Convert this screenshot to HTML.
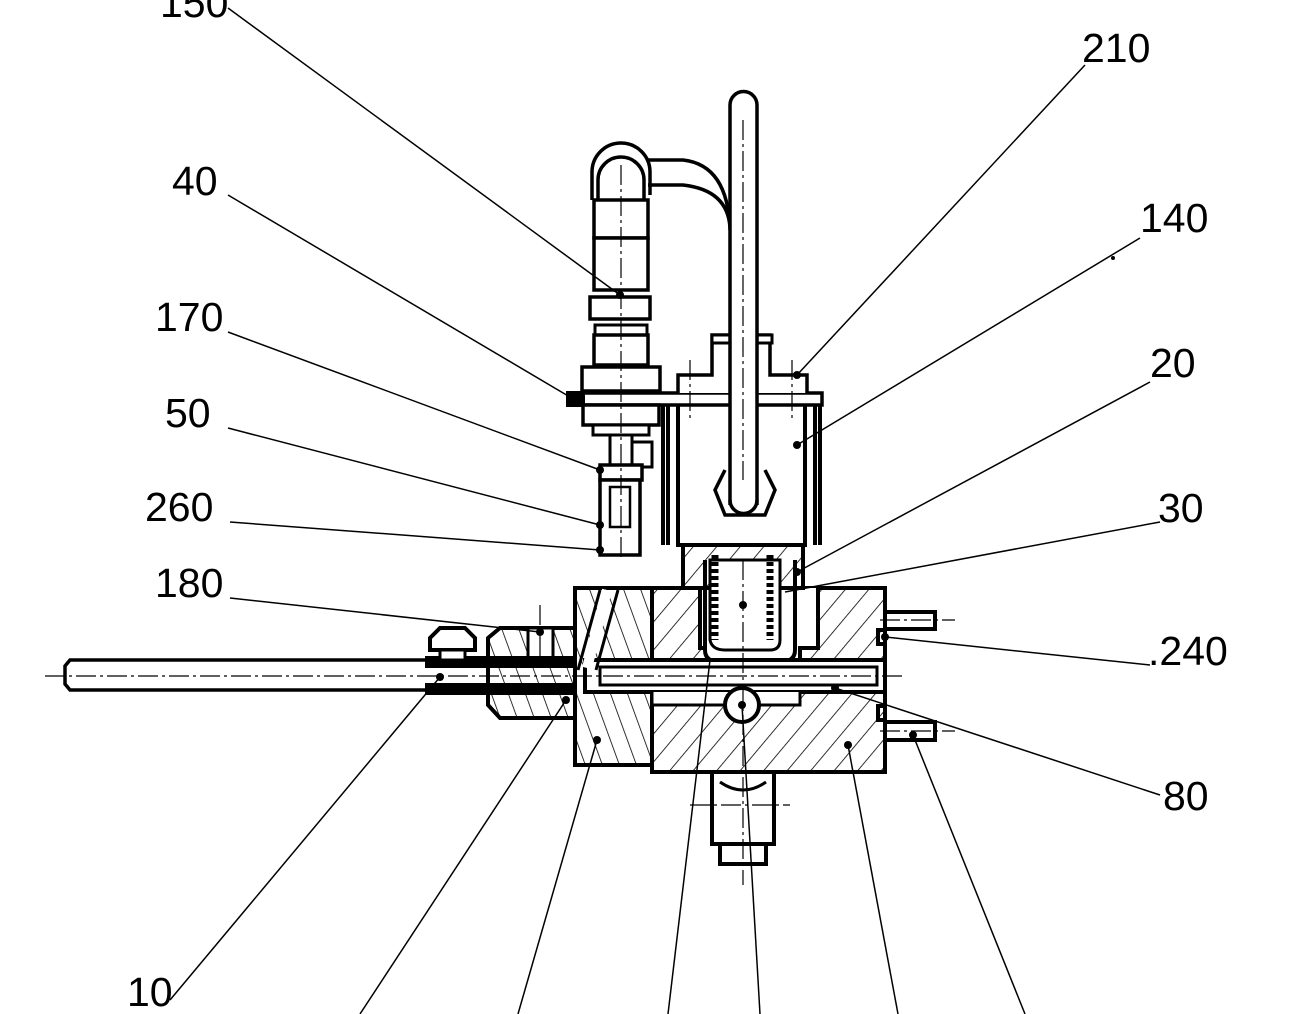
<!DOCTYPE html>
<html><head><meta charset="utf-8"><style>
html,body{margin:0;padding:0;background:#fff}
svg{display:block}
text{font-family:"Liberation Sans",sans-serif;font-size:41px;fill:#000}
</style></head><body>
<svg width="1300" height="1014" viewBox="0 0 1300 1014" xmlns="http://www.w3.org/2000/svg">
<defs>
<pattern id="h1" patternUnits="userSpaceOnUse" width="18" height="18" patternTransform="rotate(40)"><line x1="0" y1="0" x2="0" y2="18" stroke="#000" stroke-width="1.6"/></pattern>
<pattern id="h2" patternUnits="userSpaceOnUse" width="16" height="16" patternTransform="rotate(-20)"><line x1="0" y1="0" x2="0" y2="16" stroke="#000" stroke-width="1.6"/></pattern>
</defs>
<g fill="none" stroke="#000" stroke-width="4">
<rect x="652" y="588" width="233" height="184" fill="url(#h1)"/>
<path d="M575 588 H652 V765 H575 Z" fill="url(#h2)"/>
<path d="M700 588 V648 H720 V662 H800 V648 H818 V588" fill="#fff"/>
<path d="M705 560 V650 Q705 662 720 662 H780 Q795 662 795 650 V560" fill="#fff"/>
<rect x="585" y="660" width="300" height="32" fill="#fff"/>
<rect x="600" y="667" width="277" height="18" fill="#fff" stroke-width="3"/>
<path d="M652 692 V705 H800 V692" fill="#fff" stroke-width="3"/>
<circle cx="742" cy="705" r="17" fill="#fff"/>
<path d="M600 590 L578 670 M618 590 L596 670" stroke-width="3"/>
<path d="M607 590 L587 668" fill="none" stroke="#fff" stroke-width="10"/>
<rect x="885" y="612" width="50" height="17" fill="#fff"/>
<rect x="885" y="722" width="50" height="18" fill="#fff"/>
<rect x="878" y="630" width="7" height="14"/><rect x="878" y="706" width="7" height="14"/>
<rect x="712" y="772" width="62" height="72" fill="#fff"/>
<rect x="720" y="844" width="46" height="20" fill="#fff"/>
<path d="M720 782 Q743 798 766 782" stroke-width="3"/>
<path d="M575 628 H500 L488 638 V705 L500 718 H575" fill="url(#h2)"/>
<rect x="528" y="628" width="25" height="32" fill="#fff" stroke-width="3"/>
<path d="M430 660 H70 L65 666 V684 L70 690 H430" fill="#fff" stroke-width="3.5"/>
<rect x="425" y="656" width="150" height="12" fill="#000" stroke="none"/>
<rect x="425" y="683" width="150" height="12" fill="#000" stroke="none"/>
<path d="M430 650 V638 L440 628 H465 L475 638 V650 Z" fill="#fff"/>
<rect x="440" y="650" width="25" height="10" fill="#fff" stroke-width="3"/>
<rect x="683" y="545" width="120" height="43" fill="url(#h1)"/>
<path d="M710 560 V640 Q712 650 725 650 H770 Q780 650 780 640 V560 Z" fill="#fff" stroke-width="3"/>
<path d="M715 555 V640 M770 555 V640" stroke-width="7" stroke-dasharray="4 3"/>
<path d="M663 405 V545 M668 405 V545 M678 393 V545 H805 V393 M815 405 V545 M820 405 V545"/>
<rect x="568" y="393" width="254" height="12" fill="#fff" stroke-width="3.5"/>
<rect x="568" y="393" width="15" height="12" fill="#000"/>
<path d="M678 393 V375 H712 V335 H770 V375 H807 V393" fill="#fff" stroke-width="3.5"/>
<rect x="712" y="335" width="60" height="8" fill="#fff" stroke-width="3"/>
<path d="M648 160 H683 Q728 165 730 230 M648 185 H683 Q728 190 730 228" stroke-width="3.5"/>
<path d="M730 505 V105 A13.5 13.5 0 0 1 757 105 V505" fill="#fff" stroke-width="3.5"/>
<path d="M725 470 L715 490 L725 515 H765 L775 490 L765 470" fill="none" stroke-width="3.5"/>
<path d="M730 500 A13.5 13.5 0 0 0 757 500" stroke-width="3.5"/>
<path d="M598 200 V180 A23 23 0 0 1 644 180 V200" fill="#fff" stroke-width="3.5"/>
<path d="M592 200 V172 A29 29 0 0 1 650 172 V195" stroke-width="3.5"/>
<rect x="594" y="200" width="54" height="38" fill="#fff" stroke-width="3.5"/>
<rect x="594" y="238" width="54" height="52" fill="#fff" stroke-width="3.5"/>
<rect x="590" y="297" width="60" height="22" fill="#fff" stroke-width="3.5"/>
<rect x="595" y="325" width="52" height="10" fill="#fff" stroke-width="3"/>
<rect x="594" y="335" width="54" height="30" fill="#fff" stroke-width="3.5"/>
<rect x="582" y="367" width="78" height="24" fill="#fff" stroke-width="3.5"/>
<rect x="583" y="405" width="76" height="20" fill="#fff" stroke-width="3.5"/>
<rect x="593" y="425" width="56" height="10" fill="#fff" stroke-width="3"/>
<rect x="610" y="435" width="22" height="30" fill="#fff" stroke-width="3"/>
<rect x="632" y="442" width="20" height="25" fill="#fff" stroke-width="3"/>
<rect x="600" y="465" width="42" height="15" fill="#fff" stroke-width="3.5"/>
<rect x="600" y="480" width="40" height="75" fill="#fff" stroke-width="3.5"/>
<rect x="610" y="487" width="20" height="40" fill="#fff" stroke-width="2.5"/>
</g>
<g stroke="#000" stroke-width="1.2" stroke-dasharray="20 4 3 4" fill="none">
<line x1="45" y1="676" x2="905" y2="676"/>
<line x1="743" y1="120" x2="743" y2="480"/>
<line x1="621" y1="165" x2="621" y2="560"/>
<line x1="743" y1="560" x2="743" y2="885"/>
<line x1="690" y1="805" x2="790" y2="805"/>
<line x1="880" y1="620" x2="955" y2="620"/>
<line x1="880" y1="731" x2="955" y2="731"/>
<line x1="540" y1="605" x2="540" y2="660"/>
<line x1="690" y1="360" x2="690" y2="420"/>
<line x1="792" y1="360" x2="792" y2="420"/>
</g>
<g stroke="#000" stroke-width="1.5">
<line x1="228" y1="8" x2="620" y2="295"/>
<line x1="1085" y1="65" x2="797" y2="375"/>
<line x1="228" y1="195" x2="575" y2="400"/>
<line x1="1140" y1="238" x2="797" y2="445"/>
<line x1="228" y1="332" x2="600" y2="470"/>
<line x1="1150" y1="382" x2="797" y2="572"/>
<line x1="228" y1="428" x2="600" y2="525"/>
<line x1="1160" y1="522" x2="785" y2="592"/>
<line x1="230" y1="522" x2="600" y2="550"/>
<line x1="230" y1="598" x2="540" y2="632"/>
<line x1="1150" y1="665" x2="885" y2="637"/>
<line x1="1160" y1="795" x2="835" y2="688"/>
<line x1="170" y1="1000" x2="440" y2="677"/>
<line x1="360" y1="1014" x2="566" y2="700"/>
<line x1="518" y1="1014" x2="597" y2="740"/>
<line x1="668" y1="1014" x2="710" y2="660"/>
<line x1="760" y1="1014" x2="742" y2="705"/>
<line x1="898" y1="1014" x2="848" y2="745"/>
<line x1="1025" y1="1014" x2="913" y2="735"/>
</g>
<g fill="#000">
<circle cx="620" cy="295" r="4"/><circle cx="797" cy="375" r="4"/><circle cx="575" cy="400" r="4"/>
<circle cx="797" cy="445" r="4"/><circle cx="600" cy="470" r="4"/><circle cx="797" cy="572" r="4"/>
<circle cx="600" cy="525" r="4"/><circle cx="600" cy="550" r="4"/><circle cx="540" cy="632" r="4"/>
<circle cx="885" cy="637" r="4"/><circle cx="835" cy="688" r="4"/><circle cx="440" cy="677" r="4"/>
<circle cx="566" cy="700" r="4"/><circle cx="597" cy="740" r="4"/><circle cx="742" cy="705" r="4"/>
<circle cx="848" cy="745" r="4"/><circle cx="913" cy="735" r="4"/><circle cx="743" cy="605" r="4"/>
<circle cx="1113" cy="258" r="2"/>
</g>
<text x="160" y="17">150</text>
<text x="1082" y="62">210</text>
<text x="172" y="195">40</text>
<text x="1140" y="232">140</text>
<text x="155" y="331">170</text>
<text x="1150" y="377">20</text>
<text x="165" y="427">50</text>
<text x="1158" y="522">30</text>
<text x="145" y="521">260</text>
<text x="155" y="597">180</text>
<text x="1148" y="665">.240</text>
<text x="1163" y="810">80</text>
<text x="127" y="1006">10</text>
</svg>
</body></html>
